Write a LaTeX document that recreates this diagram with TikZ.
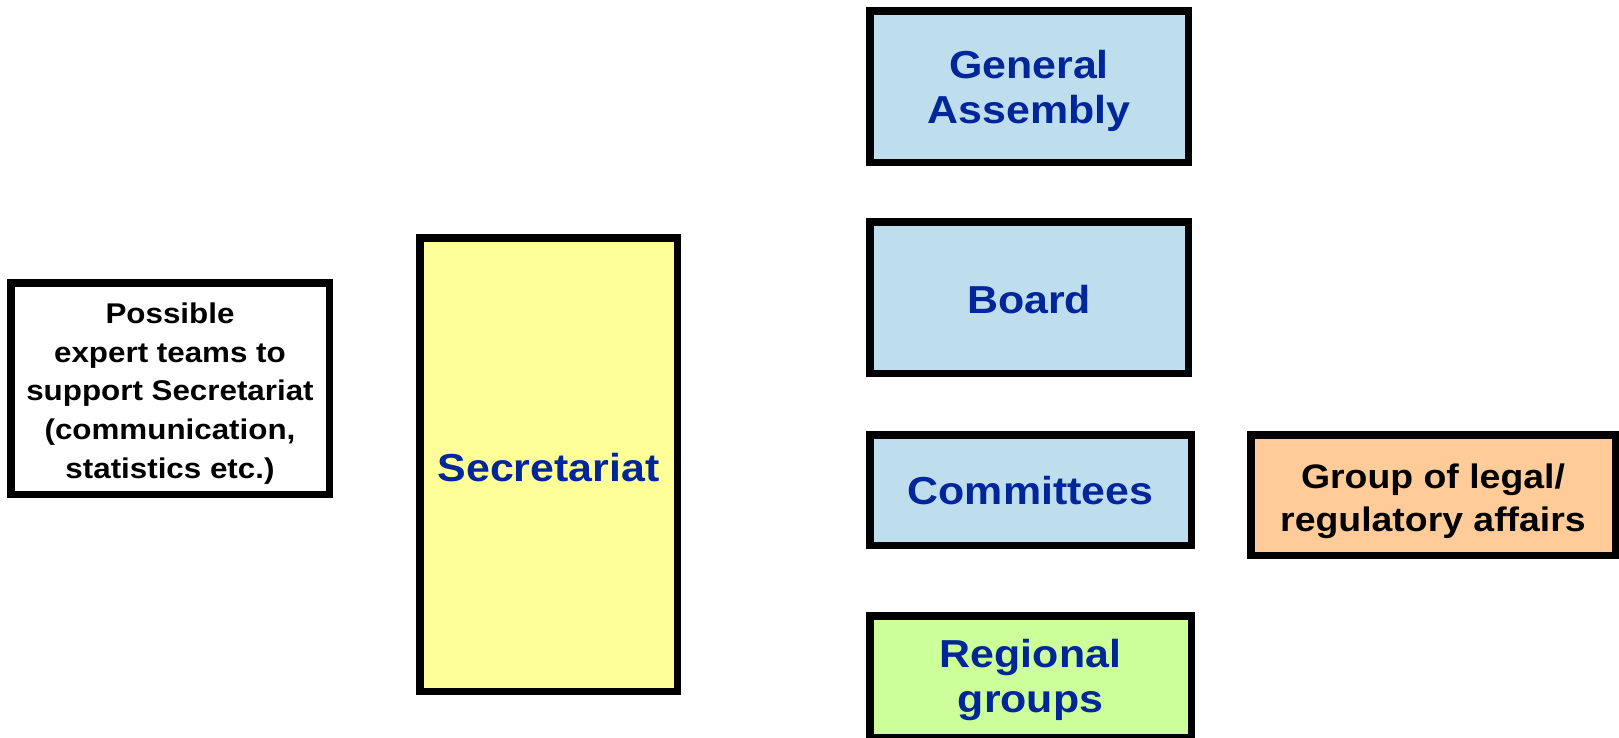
\documentclass[tikz,border=0pt]{standalone}
\usepackage{fontspec}
\newfontfamily\af{Liberation Sans}[FakeStretch=1.1]
\definecolor{boxblue}{RGB}{190,222,238}
\definecolor{txtblue}{RGB}{0,38,153}
\definecolor{boxyellow}{RGB}{255,255,153}
\definecolor{boxgreen}{RGB}{204,255,153}
\definecolor{boxorange}{RGB}{255,204,153}
\tikzset{
  orgbox/.style={draw=black, line width=7.5pt, inner sep=0pt},
  bluetext/.style={text=txtblue, inner sep=0pt, align=center, font=\af\bfseries\fontsize{39}{45}\selectfont},
  blacktext/.style={text=black, inner sep=0pt, align=center, font=\af\bfseries\fontsize{28.5}{38.7}\selectfont},
  grouptext/.style={text=black, inner sep=0pt, align=center, font=\af\bfseries\fontsize{34}{43}\selectfont}
}
\begin{document}
\begin{tikzpicture}[x=1pt,y=-1pt]
\useasboundingbox (0,0) rectangle (1619,737);
\node[orgbox, fill=boxblue, minimum width=318.5pt, minimum height=151.5pt] (ga) at (1029,86.5) {};
\node[orgbox, fill=boxblue, minimum width=318.5pt, minimum height=151.5pt] (board) at (1029,297.5) {};
\node[orgbox, fill=boxblue, minimum width=321.5pt, minimum height=110.5pt] (comm) at (1030.5,490) {};
\node[orgbox, fill=boxgreen, minimum width=321.5pt, minimum height=121.5pt] (reg) at (1030.5,676.5) {};
\node[orgbox, fill=boxyellow, minimum width=257.5pt, minimum height=453.5pt] (sec) at (548.5,464.5) {};
\node[orgbox, fill=white, minimum width=318.5pt, minimum height=211.5pt] (exp) at (170,388.5) {};
\node[orgbox, fill=boxorange, minimum width=364.5pt, minimum height=120.5pt] (legal) at (1433,495) {};
\node[bluetext] (gat) at ([yshift=-4pt]ga.center) {General\\Assembly};
\node[bluetext] (boardt) at ([yshift=-2pt]board.center) {Board};
\node[bluetext] (commt) at ([yshift=-1pt]comm.center) {Committees};
\node[bluetext] (regt) at ([yshift=-3pt]reg.center) {Regional\\groups};
\node[bluetext] (sect) at ([yshift=-3pt]sec.center) {Secretariat};
\node[blacktext] (expt) at ([yshift=-5pt]exp.center) {Possible\\expert teams to\\support Secretariat\\(communication,\\statistics etc.)};
\node[grouptext] (legalt) at ([yshift=-6pt]legal.center) {Group of legal/\\regulatory affairs};
\end{tikzpicture}
\end{document}
